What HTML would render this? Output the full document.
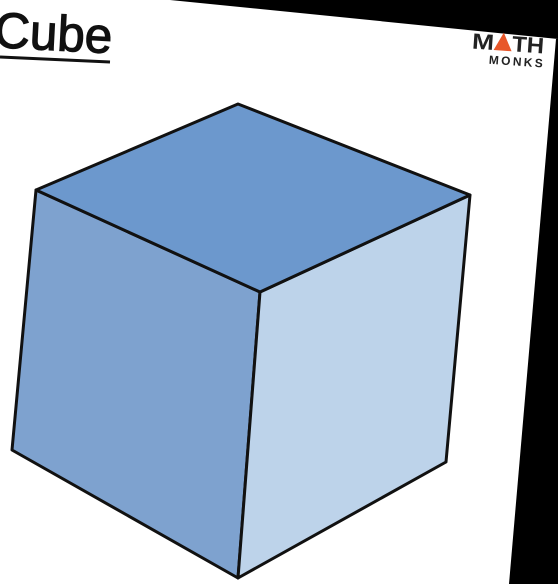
<!DOCTYPE html>
<html><head><meta charset="utf-8"><style>
html,body{margin:0;padding:0;background:#fff;}
body{width:558px;height:584px;overflow:hidden;position:relative;font-family:"Liberation Sans","DejaVu Sans",sans-serif;}
svg{position:absolute;left:0;top:0;}
</style></head><body>
<svg width="558" height="584" viewBox="0 0 558 584">
  <rect x="0" y="0" width="558" height="584" fill="#ffffff"/>
  <polygon points="0,0 558,0 558,39 200,3 0,-17" fill="#000"/>
  <polygon points="556,39 558,39 558,584 509,584" fill="#000"/>
  <g stroke="#111" stroke-width="3" stroke-linejoin="round">
    <polygon points="36,190 260,292 238,578 12,450" fill="#7ea2cf"/>
    <polygon points="260,292 470,195 446,462 238,578" fill="#bdd3ea"/>
    <polygon points="36,190 238,104 470,195 260,292" fill="#6c98cd"/>
  </g>
  <text x="-6" y="50" font-size="50" fill="#111" stroke="#111" stroke-width="1.2" font-family="Liberation Sans, sans-serif" textLength="118" lengthAdjust="spacingAndGlyphs" transform="rotate(3 50 40)">Cube</text>
  <line x1="0" y1="57" x2="110" y2="62" stroke="#111" stroke-width="3"/>
  <g transform="rotate(4 508 45)">
    <text x="472" y="51" font-size="22" font-weight="bold" fill="#222" textLength="22" lengthAdjust="spacingAndGlyphs">M</text>
    <polygon points="494,51 503,33 512,51" fill="#e8572a"/>
    <text x="512" y="51" font-size="22" font-weight="bold" fill="#222" textLength="32" lengthAdjust="spacingAndGlyphs">TH</text>
    <text x="490" y="65" font-size="12" font-weight="bold" fill="#222" textLength="54" lengthAdjust="spacing">MONKS</text>
  </g>
</svg>
</body></html>
